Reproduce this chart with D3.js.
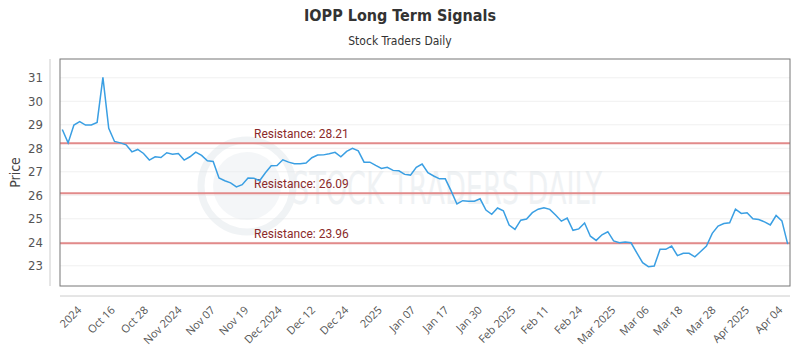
<!DOCTYPE html>
<html>
<head>
<meta charset="utf-8">
<script src="https://cdn.jsdelivr.net/npm/d3@7"></script>
<style>
  body { margin: 0; background: #fff; }
  .cond { font-family: "DejaVu Sans", sans-serif; font-stretch: condensed; }
</style>
</head>
<body>
<div id="chart"></div>
<script>
// closing prices, one per trading day
const prices = [
    28.80, 28.23, 28.99, 29.14, 28.99, 28.99, 29.10, 31.02, 28.85, 28.29,
    28.23, 28.15, 27.85, 27.95, 27.78, 27.50, 27.64, 27.61, 27.81, 27.75,
    27.78, 27.50, 27.64, 27.84, 27.70, 27.47, 27.44, 26.74, 26.62, 26.53,
    26.36, 26.45, 26.74, 26.73, 26.62, 26.96, 27.26, 27.27, 27.51, 27.41,
    27.34, 27.34, 27.37, 27.60, 27.71, 27.72, 27.77, 27.83, 27.64, 27.87,
    28.00, 27.89, 27.41, 27.41, 27.27, 27.14, 27.19, 27.06, 27.04, 26.89,
    26.86, 27.19, 27.33, 26.96, 26.82, 26.70, 26.70, 26.19, 25.63, 25.77,
    25.75, 25.75, 25.85, 25.37, 25.19, 25.46, 25.34, 24.73, 24.55, 24.94,
    24.99, 25.26, 25.41, 25.47, 25.40, 25.16, 24.90, 25.03, 24.51, 24.57,
    24.82, 24.26, 24.08, 24.32, 24.45, 24.06, 23.98, 24.01, 23.98, 23.55,
    23.13, 22.96, 22.99, 23.70, 23.70, 23.84, 23.43, 23.53, 23.53, 23.38,
    23.61, 23.84, 24.38, 24.69, 24.80, 24.83, 25.41, 25.23, 25.26, 25.00,
    24.97, 24.87, 24.74, 25.14, 24.91, 23.92
];

const tickLabels = [
    "2024", "Oct 16", "Oct 28", "Nov 2024", "Nov 07", "Nov 19", "Dec 2024",
    "Dec 12", "Dec 24", "2025", "Jan 07", "Jan 17", "Jan 30", "Feb 2025",
    "Feb 11", "Feb 24", "Mar 2025", "Mar 06", "Mar 18", "Mar 28", "Apr 2025", "Apr 04"
];

const resistance = [28.21, 26.09, 23.96];
const yTicks = [23, 24, 25, 26, 27, 28, 29, 30, 31];

const width = 800, height = 350;
const plot = { left: 60, right: 790, top: 59, bottom: 286 };

const svg = d3.select("#chart")
    .append("svg")
    .attr("width", width)
    .attr("height", height);

const x = d3.scaleLinear()
    .domain([0, prices.length - 1])
    .range([plot.left + 2.3, plot.right - 2.3]);

const y = d3.scaleLinear()
    .domain([22.14, 31.8])
    .range([plot.bottom, plot.top]);

const xLab = d3.scalePoint()
    .domain(tickLabels)
    .range([79, 780]);

// title
svg.append("text")
    .attr("class", "cond")
    .attr("x", width / 2)
    .attr("y", 21)
    .attr("text-anchor", "middle")
    .attr("font-weight", "bold")
    .attr("font-size", "16px")
    .attr("fill", "#333")
    .text("IOPP Long Term Signals");

svg.append("text")
    .attr("class", "cond")
    .attr("x", width / 2)
    .attr("y", 45)
    .attr("text-anchor", "middle")
    .attr("font-size", "12px")
    .attr("fill", "#333")
    .text("Stock Traders Daily");

// grid
svg.append("g")
    .selectAll("line")
    .data(yTicks)
    .enter()
    .append("line")
    .attr("x1", plot.left)
    .attr("x2", plot.right)
    .attr("y1", d => y(d))
    .attr("y2", d => y(d))
    .attr("stroke", "#f0f0f0")
    .attr("stroke-width", 1);

// watermark
const wm = svg.append("g").attr("opacity", 0.45);
wm.append("circle")
    .attr("cx", 247)
    .attr("cy", 186)
    .attr("r", 46)
    .attr("fill", "none")
    .attr("stroke", "#dfe5ea")
    .attr("stroke-width", 7);
wm.append("circle")
    .attr("cx", 247)
    .attr("cy", 186)
    .attr("r", 34)
    .attr("fill", "#e8edf1");
wm.append("text")
    .attr("class", "cond")
    .attr("x", 292)
    .attr("y", 204)
    .attr("font-size", "44px")
    .attr("textLength", 310)
    .attr("lengthAdjust", "spacingAndGlyphs")
    .attr("fill", "#dde3e8")
    .text("STOCK TRADERS DAILY");

// resistance lines
svg.append("g")
    .selectAll("line")
    .data(resistance)
    .enter()
    .append("line")
    .attr("x1", plot.left)
    .attr("x2", plot.right)
    .attr("y1", d => y(d))
    .attr("y2", d => y(d))
    .attr("stroke", "#e28a8a")
    .attr("stroke-width", 2);

svg.append("g")
    .selectAll("text")
    .data(resistance)
    .enter()
    .append("text")
    .attr("x", 254)
    .attr("y", d => y(d) - 5)
    .attr("font-family", "Roboto, sans-serif")
    .attr("font-size", "12px")
    .attr("fill", "#8b2a2a")
    .text(d => "Resistance: " + d.toFixed(2));

// price line
const line = d3.line()
    .x((d, i) => x(i))
    .y(d => y(d));

svg.append("path")
    .datum(prices)
    .attr("fill", "none")
    .attr("stroke", "#3a9fe3")
    .attr("stroke-width", 1.5)
    .attr("d", line);

// frame
svg.append("rect")
    .attr("x", plot.left)
    .attr("y", plot.top)
    .attr("width", plot.right - plot.left)
    .attr("height", plot.bottom - plot.top)
    .attr("fill", "none")
    .attr("stroke", "#777")
    .attr("stroke-width", 1);

// y axis
const yAxis = svg.append("g")
    .attr("transform", "translate(50,0)")
    .call(d3.axisLeft(y).tickValues(yTicks).tickSize(0).tickPadding(7));
yAxis.select(".domain").attr("stroke", "#ccc").attr("d", `M0,${plot.top}V${plot.bottom}`);
yAxis.selectAll("text")
    .attr("class", "cond")
    .attr("font-size", "13px")
    .attr("fill", "#555");

svg.append("text")
    .attr("class", "cond")
    .attr("transform", `translate(20,${(plot.top + plot.bottom) / 2}) rotate(-90)`)
    .attr("text-anchor", "middle")
    .attr("font-size", "14px")
    .attr("fill", "#444")
    .text("Price");

// x axis
const xAxis = svg.append("g")
    .attr("transform", "translate(0,296)")
    .call(d3.axisBottom(xLab).tickSize(0).tickPadding(0));
xAxis.select(".domain").attr("stroke", "#ccc").attr("d", `M${plot.left},0H${plot.right}`);
xAxis.selectAll("text")
    .attr("font-family", "'Open Sans', sans-serif")
    .attr("font-size", "11px")
    .attr("fill", "#555")
    .attr("text-anchor", "end")
    .attr("dy", "0.35em")
    .attr("transform", "translate(0,12) rotate(-45)");
</script>
</body>
</html>
